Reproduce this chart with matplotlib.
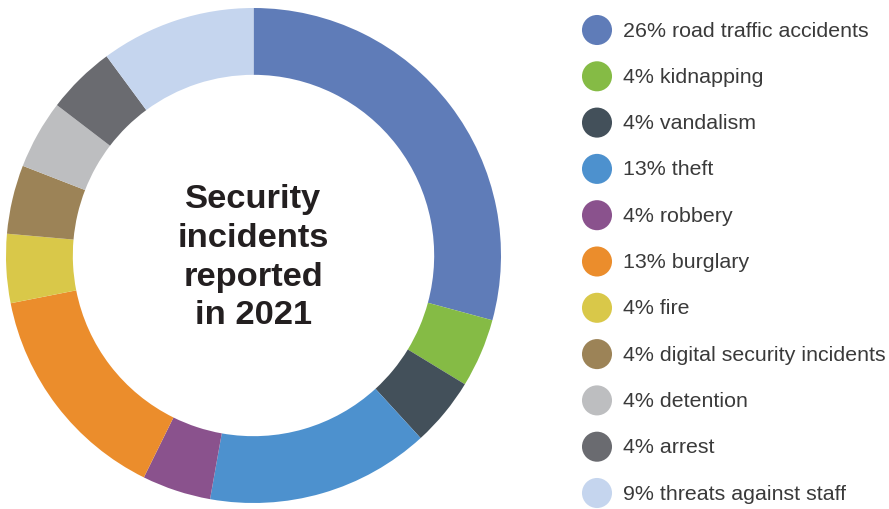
import matplotlib
matplotlib.use("Agg")
from matplotlib import pyplot as plt

# data
categories = ["road traffic accidents", "kidnapping", "vandalism", "theft",
              "robbery", "burglary", "fire", "digital security incidents",
              "detention", "arrest", "threats against staff"]
percentages = [26, 4, 4, 13, 4, 13, 4, 4, 4, 4, 9]
colors = ["#5F7CB8", "#85BB45", "#43505A", "#4D91CE", "#8A528D", "#EB8D2C",
          "#D9C849", "#9C8357", "#BDBEC0", "#6A6B70", "#C5D5EE"]
title = "Security\nincidents\nreported\nin 2021"

W, H = 889, 509
fig = plt.figure(figsize=(W / 100, H / 100), dpi=100)

# donut
ax = fig.add_axes([6 / W, 6 / H, 495 / W, 495 / H])
ax.pie(percentages, colors=colors, startangle=90, counterclock=False,
       radius=1, wedgeprops=dict(width=0.27, edgecolor="none"))
ax.set_xlim(-1, 1)
ax.set_ylim(-1, 1)
ax.set_aspect("auto")
ax.axis("off")
ax.text(0, -0.01, title, ha="center", va="center", fontsize=24.8,
        fontweight="bold", color="#231F20", linespacing=1.32,
        family=["Liberation Sans", "DejaVu Sans"])

# legend, drawn by hand
lax = fig.add_axes([0, 0, 1, 1])
lax.set_xlim(0, W)
lax.set_ylim(H, 0)
lax.axis("off")
y0, step = 30, 46.3
for i, (cat, pct, col) in enumerate(zip(categories, percentages, colors)):
    y = y0 + i * step
    lax.scatter([597], [y], s=30 ** 2 * 0.52, color=col, edgecolors="none")
    lax.text(623, y + 1, f"{pct}% {cat}", ha="left", va="center",
             fontsize=15.4, color="#3A3A3A",
             family=["Liberation Sans", "DejaVu Sans"])

fig.savefig("out.png", dpi=100)
